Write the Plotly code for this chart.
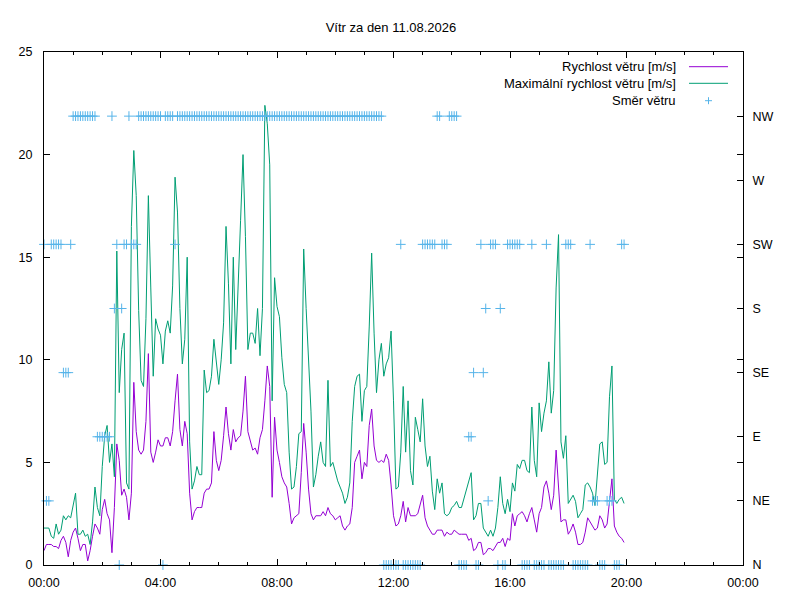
import plotly.graph_objects as go
import pandas as pd

# ---- data (5-minute samples, 11.08.2026 00:00 .. 19:55) ----
day_start = "2026-08-11 00:00"
day_end = "2026-08-12 00:00"
n_samples = 240
times = pd.date_range(day_start, periods=n_samples, freq="5min")

avg_speed = [
    0.7, 1.0, 1.0, 1.0, 0.9, 0.9, 0.8, 1.2, 1.4, 1.1,
    0.4, 1.2, 1.6, 1.8, 1.3, 0.7, 1.0, 1.0, 0.2, 0.7,
    1.4, 2.0, 1.8, 1.5, 2.7, 3.2, 2.5, 2.2, 0.6, 2.8,
    5.9, 5.1, 3.4, 3.7, 3.3, 2.2, 3.5, 8.9, 6.5, 5.6,
    5.4, 5.6, 7.0, 10.3, 5.5, 5.0, 5.5, 6.1, 5.8, 5.8,
    6.2, 6.2, 5.8, 6.5, 8.0, 9.3, 6.6, 5.8, 7.0, 6.4,
    3.5, 2.2, 2.6, 2.8, 2.8, 2.8, 3.5, 3.7, 3.7, 4.0,
    6.5, 5.1, 4.6, 5.1, 6.3, 7.7, 6.4, 5.6, 6.6, 6.0,
    6.2, 6.3, 7.5, 9.2, 6.5, 6.0, 5.6, 5.7, 5.4, 6.2,
    6.6, 8.0, 9.7, 8.7, 3.3, 7.2, 5.6, 5.0, 4.3, 4.0,
    3.8, 3.0, 2.0, 2.3, 2.4, 2.5, 4.5, 6.9, 5.5, 3.7,
    2.5, 2.2, 2.4, 2.4, 2.4, 2.6, 2.4, 2.8, 2.5, 2.4,
    2.2, 2.3, 2.4, 1.9, 1.7, 1.9, 2.0, 2.8, 5.0, 5.3,
    5.6, 4.2, 5.0, 4.8, 6.8, 7.6, 5.8, 5.1, 5.0, 5.1,
    5.0, 5.4, 5.1, 3.9, 2.4, 1.9, 2.0, 2.4, 3.1, 2.1,
    2.8, 2.4, 2.4, 2.4, 2.5, 3.0, 3.4, 2.3, 1.9, 1.7,
    1.5, 1.5, 1.7, 1.7, 1.7, 1.4, 1.6, 1.5, 1.5, 1.7,
    1.6, 1.5, 1.5, 1.5, 1.5, 1.2, 1.3, 0.7, 0.8, 1.1,
    1.1, 0.5, 0.6, 0.8, 0.8, 0.7, 0.9, 1.1, 1.1, 1.3,
    0.9, 1.3, 1.2, 2.5, 1.9, 2.4, 2.5, 2.6, 2.4, 2.1,
    2.5, 2.8, 2.2, 1.6, 2.5, 2.8, 3.8, 4.1, 3.5, 2.7,
    3.4, 5.6, 3.8, 2.1, 2.2, 2.2, 1.5, 1.7, 2.0, 1.6,
    1.0, 1.0, 1.1, 1.6, 2.3, 2.1, 1.9, 1.7, 1.8, 2.4,
    2.2, 1.8, 2.0, 3.2, 4.2, 1.9, 1.6, 1.4, 1.3, 1.1,
]

max_speed = [
    1.8, 1.8, 1.8, 1.4, 1.3, 2.0, 1.5, 1.7, 2.4, 2.2,
    2.4, 2.3, 2.9, 3.5, 1.5, 1.5, 1.7, 1.4, 1.5, 1.0,
    2.1, 3.8, 2.8, 2.4, 4.8, 6.3, 6.8, 5.0, 5.9, 4.3,
    15.3, 8.4, 10.5, 11.3, 4.0, 3.7, 16.5, 20.2, 18.0, 12.4,
    9.0, 8.7, 12.0, 18.0, 13.5, 9.2, 12.0, 11.5, 11.2, 9.8,
    11.4, 11.9, 11.3, 13.6, 18.9, 17.2, 12.5, 9.8, 11.0, 15.0,
    6.0, 3.7, 4.1, 4.8, 4.4, 4.4, 9.5, 8.4, 8.5, 9.2,
    11.0, 10.0, 8.8, 10.0, 11.8, 16.5, 13.7, 9.8, 15.0, 10.5,
    14.2, 16.8, 20.0, 16.0, 10.5, 11.3, 11.3, 10.8, 12.5, 10.2,
    12.5, 22.4, 21.5, 19.5, 8.0, 14.0, 12.6, 12.1, 10.1, 8.8,
    8.4, 5.5, 3.7, 3.8, 4.8, 6.4, 6.5, 15.4, 12.5, 10.0,
    7.5, 3.8, 4.4, 5.3, 6.0, 5.0, 4.8, 9.0, 4.8, 5.0,
    4.5, 4.1, 3.8, 3.5, 3.0, 3.3, 4.0, 7.0, 8.7, 9.2,
    9.3, 7.0, 8.5, 8.7, 11.6, 15.2, 11.3, 8.4, 10.0, 10.8,
    9.2, 9.8, 10.1, 11.4, 8.0, 3.7, 3.8, 5.5, 8.7, 5.5,
    8.0, 4.6, 3.9, 7.2, 6.6, 6.0, 8.1, 5.8, 4.8, 5.3,
    3.6, 2.7, 4.2, 3.5, 4.0, 2.5, 2.4, 2.5, 2.8, 2.9,
    3.1, 2.8, 2.8, 3.2, 3.6, 4.1, 4.5, 2.2, 2.4, 3.0,
    3.0, 1.8, 1.6, 1.4, 1.7, 1.4, 1.8, 2.8, 4.3, 3.0,
    2.5, 3.2, 2.6, 4.0, 3.6, 4.9, 4.7, 5.1, 5.1, 4.6,
    4.5, 7.7, 5.1, 4.3, 7.9, 6.5, 7.4, 8.0, 9.9, 7.4,
    8.5, 13.5, 16.1, 6.0, 5.2, 6.3, 3.0, 3.2, 3.4, 3.1,
    2.3, 2.5, 2.7, 3.9, 4.0, 3.8, 3.5, 2.9, 4.6, 5.9,
    6.0, 4.9, 5.0, 8.2, 9.7, 3.2, 3.0, 3.2, 3.3, 3.0,
]

wind_dir = """
SW NE NE SW SW SW SW SW SE SE
SE SW NW NW NW NW NW NW NW NW
NW NW E E E E E E NW S
SW N S SW SW NW SW SW SW NW
NW NW NW NW NW NW NW NW NW N
NW NW NW NW SW NW NW NW NW NW
NW NW NW NW NW NW NW NW NW NW
NW NW NW NW NW NW NW NW NW NW
NW NW NW NW NW NW NW NW NW NW
NW NW NW NW NW NW NW NW NW NW
NW NW NW NW NW NW NW NW NW NW
NW NW NW NW NW NW NW NW NW NW
NW NW NW NW NW NW NW NW NW NW
NW NW NW NW NW NW NW NW NW NW
N N N N N N N SW N N
N N N N N N SW SW SW SW
SW SW NW NW SW SW SW NW NW NW
NW N N N N E E SE N N
SW SE S NE SW SW SW N S N
N SW SW SW SW SW SW N N N
N SW N N N N N SW N N
N N N N N SW SW SW N N
N N N N N SW NE NE NE N
N N NE NE NE N N N SW SW
""".split()

compass_labels = ["N", "NE", "E", "SE", "S", "SW", "W", "NW"]
compass_degrees = [0, 45, 90, 135, 180, 225, 270, 315]

series_names = ["Rychlost větru [m/s]", "Maximální rychlost větru [m/s]", "Směr větru"]
series_colors = ["#9400d3", "#009e73", "#56b4e9"]

title_text = "Vítr za den 11.08.2026"

# ---- figure ----
deg_of = dict(zip(compass_labels, compass_degrees))
dir_deg = [deg_of[d] for d in wind_dir]

FONT = "Liberation Sans, Arial, sans-serif"
TXT = 13
TICK = 12.5

fig = go.Figure()
fig.add_trace(go.Scatter(x=times, y=avg_speed, mode="lines", name=series_names[0],
                         line=dict(color=series_colors[0], width=1)))
fig.add_trace(go.Scatter(x=times, y=max_speed, mode="lines", name=series_names[1],
                         line=dict(color=series_colors[1], width=1)))
fig.add_trace(go.Scatter(x=times, y=dir_deg, mode="markers", name=series_names[2], yaxis="y2",
                         cliponaxis=False,
                         marker=dict(symbol="cross-thin", size=7,
                                     line=dict(width=1, color=series_colors[2]),
                                     color=series_colors[2])))

# page has an 8px body margin: figure is 792x592 so the page is 800x600
OFF = 8
W, H = 792, 592
PL, PR, PT, PB = 44, 743, 52, 565          # plot area in page pixels
L, T = PL - OFF, PT - OFF
R = W - (PR - OFF)
B = H - (PB - OFF)
pw, ph = PR - PL, PB - PT

def px(x):
    return (x - PL) / pw

def py(y):
    return (PB - y) / ph

fig.update_layout(
    width=W, height=H,
    margin=dict(l=L, r=R, t=T, b=B, pad=0, autoexpand=False),
    plot_bgcolor="white", paper_bgcolor="white",
    showlegend=False,
    font=dict(family=FONT, size=TXT, color="black"),
    title=dict(text=title_text, x=(391 - OFF) / W, xanchor="center",
               y=1 - (27 - OFF) / H, yanchor="middle",
               font=dict(family=FONT, size=TXT, color="black")),
    xaxis=dict(type="date", range=[day_start, day_end], tickformat="%H:%M",
               tick0=day_start, dtick=4 * 3600 * 1000,
               ticks="inside", ticklen=6, tickcolor="black", tickwidth=1,
               showline=True, linecolor="black", linewidth=1, mirror="ticks",
               showgrid=False, zeroline=False, ticklabelstandoff=6, automargin=False,
               minor=dict(dtick=3600 * 1000, ticks="inside", ticklen=3,
                          tickcolor="black", showgrid=False),
               tickfont=dict(family=FONT, size=TICK, color="black")),
    yaxis=dict(range=[0, 25], dtick=5, tick0=0, ticks="inside", ticklen=6,
               tickcolor="black", showline=True, linecolor="black", linewidth=1,
               mirror="ticks", showgrid=False, zeroline=False, ticklabelstandoff=8,
               automargin=False,
               tickfont=dict(family=FONT, size=TICK, color="black")),
    yaxis2=dict(overlaying="y", side="right", range=[0, 360],
                tickvals=compass_degrees, ticktext=compass_labels,
                ticks="inside", ticklen=6, tickcolor="black",
                showline=True, linecolor="black", linewidth=1,
                showgrid=False, zeroline=False, ticklabelstandoff=6, automargin=False,
                tickfont=dict(family=FONT, size=TICK, color="black")),
)

# ---- gnuplot-style key (text right-aligned, sample to the right) ----
rows_y = [66.7, 83.3, 100.7]
text_right = 678
sample_x0, sample_x1 = 689, 728
for i, name in enumerate(series_names):
    yp = py(rows_y[i])
    fig.add_annotation(x=px(text_right), y=yp, xref="paper", yref="paper",
                       text=name, showarrow=False, xanchor="right", yanchor="middle",
                       font=dict(family=FONT, size=TXT, color="black"))
    if i < 2:
        fig.add_shape(type="line", xref="paper", yref="paper",
                      x0=px(sample_x0), x1=px(sample_x1), y0=yp, y1=yp,
                      line=dict(color=series_colors[i], width=1))
    else:
        cx = (sample_x0 + sample_x1) / 2
        fig.add_shape(type="line", xref="paper", yref="paper",
                      x0=px(cx - 3.5), x1=px(cx + 3.5), y0=yp, y1=yp,
                      line=dict(color=series_colors[i], width=1))
        fig.add_shape(type="line", xref="paper", yref="paper",
                      x0=px(cx), x1=px(cx), y0=py(rows_y[i] - 3.5), y1=py(rows_y[i] + 3.5),
                      line=dict(color=series_colors[i], width=1))

fig.write_html("out.html")
